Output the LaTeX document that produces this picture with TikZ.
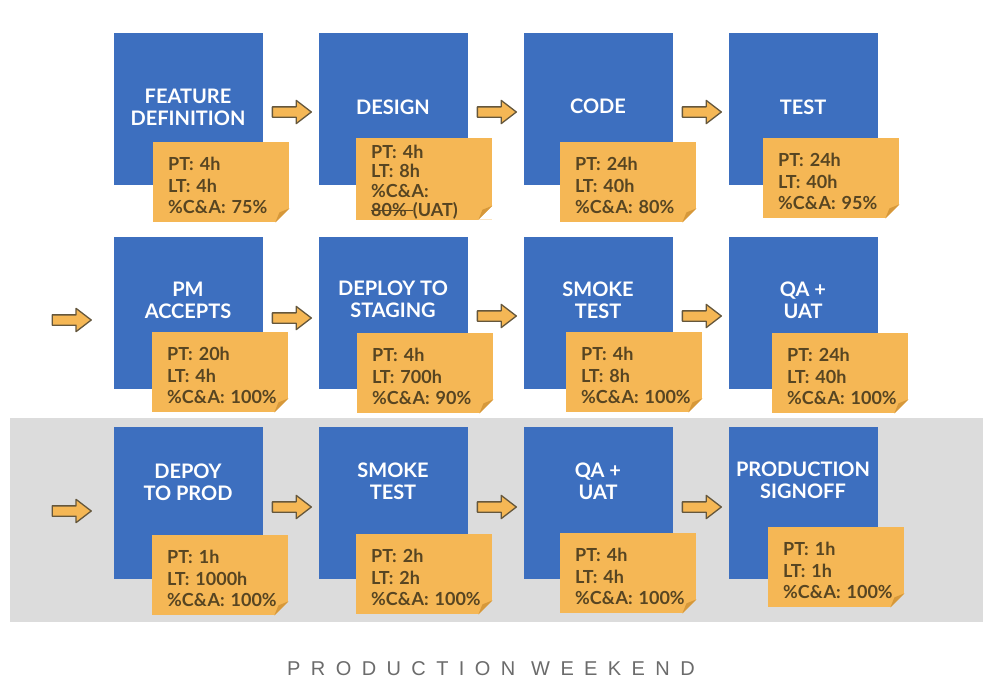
\documentclass[tikz,border=0pt]{standalone}
\usepackage{fontspec}
\setmainfont{Lato}
\newfontfamily\weekendfont[LetterSpace=52]{Liberation Sans}
\usetikzlibrary{shapes.arrows,positioning}

\definecolor{bleu}{HTML}{3D6FBF}
\definecolor{postit}{HTML}{F5B755}
\definecolor{pli}{HTML}{D6983A}
\definecolor{encre}{HTML}{574522}
\definecolor{bande}{HTML}{DCDCDC}
\definecolor{contour}{HTML}{65573C}

\newcommand\barre[1]{\leavevmode\setbox0\hbox{#1}\rlap{\rule[0.3em]{\wd0}{1.3pt}}\box0}

\def\x{205}
\def\ya{109}
\def\yb{313}
\def\yc{503}

\begin{document}
\begin{tikzpicture}[x=1pt,y=-1pt]
\tikzstyle{etape}=[fill=bleu,minimum width=149pt,minimum height=152pt,inner sep=0pt]
\tikzstyle{titre}=[text=white,font=\fontsize{20}{22}\selectfont\bfseries,align=center]
\tikzstyle{note}=[fill=postit,anchor=north west,minimum height=80pt,text width=106pt,inner xsep=15pt,inner ysep=0pt,align=left,text=encre,font=\fontsize{18}{21.5}\selectfont\bfseries,execute at begin node=\rule{0pt}{20pt}]
\tikzstyle{fleche}=[single arrow,draw=contour,fill=postit,line width=1.3pt,line join=round,minimum height=39pt,inner sep=4.5pt,single arrow head extend=6.5pt,single arrow tip angle=75]

\useasboundingbox (0,0) rectangle (983,683);
\fill[bande] (10,418) rectangle (983,622);

\node[etape] (b1) at (188,\ya) {};
\node[etape] (b2) at (188+\x,\ya) {};
\node[etape] (b3) at (188+2*\x,\ya) {};
\node[etape] (b4) at (188+3*\x,\ya) {};
\node[etape] (b5) at (188,\yb) {};
\node[etape] (b6) at (188+\x,\yb) {};
\node[etape] (b7) at (188+2*\x,\yb) {};
\node[etape] (b8) at (188+3*\x,\yb) {};
\node[etape] (b9) at (188,\yc) {};
\node[etape] (b10) at (188+\x,\yc) {};
\node[etape] (b11) at (188+2*\x,\yc) {};
\node[etape] (b12) at (188+3*\x,\yc) {};

\node[titre] (t1) at ([yshift=2pt]b1.center) {FEATURE\\DEFINITION};
\node[titre] (t2) at ([yshift=2pt]b2.center) {DESIGN};
\node[titre] (t3) at ([yshift=3pt]b3.center) {CODE};
\node[titre] (t4) at ([yshift=2pt]b4.center) {TEST};
\node[titre] (t5) at ([yshift=13pt]b5.center) {PM\\ACCEPTS};
\node[titre] (t6) at ([yshift=14pt]b6.center) {DEPLOY TO\\STAGING};
\node[titre] (t7) at ([yshift=13pt]b7.center) {SMOKE\\TEST};
\node[titre] (t8) at ([yshift=13pt]b8.center) {QA +\\UAT};
\node[titre] (t9) at ([yshift=21pt]b9.center) {DEPOY\\TO PROD};
\node[titre] (t10) at ([yshift=22pt]b10.center) {SMOKE\\TEST};
\node[titre] (t11) at ([yshift=22pt]b11.center) {QA +\\UAT};
\node[titre] (t12) at ([yshift=23pt]b12.center) {PRODUCTION\\SIGNOFF};

\node[note] (n1) at (153,142) {PT:~4h\\LT:~4h\\\%C\&A:~75\%};
\node[note,font=\fontsize{18}{19.5}\selectfont\bfseries,execute at begin node={}] (n2) at (356,138) {PT:~4h\\LT:~8h\\\%C\&A:\\\barre{80\%~}(UAT)};
\node[note] (n3) at (560,142) {PT:~24h\\LT:~40h\\\%C\&A:~80\%};
\node[note] (n4) at (763,138) {PT:~24h\\LT:~40h\\\%C\&A:~95\%};
\node[note] (n5) at (152,332) {PT:~20h\\LT:~4h\\\%C\&A:~100\%};
\node[note] (n6) at (357,333) {PT:~4h\\LT:~700h\\\%C\&A:~90\%};
\node[note] (n7) at (566,332) {PT:~4h\\LT:~8h\\\%C\&A:~100\%};
\node[note] (n8) at (772,333) {PT:~24h\\LT:~40h\\\%C\&A:~100\%};
\node[note] (n9) at (152,535) {PT:~1h\\LT:~1000h\\\%C\&A:~100\%};
\node[note] (n10) at (356,534) {PT:~2h\\LT:~2h\\\%C\&A:~100\%};
\node[note] (n11) at (560,533) {PT:~4h\\LT:~4h\\\%C\&A:~100\%};
\node[note] (n12) at (768,527) {PT:~1h\\LT:~1h\\\%C\&A:~100\%};

\foreach \n/\fond in {n1/white,n2/white,n3/white,n4/white,n5/white,n6/white,n7/white,n8/white,n9/bande,n10/bande,n11/bande,n12/bande} {
  \fill[\fond] (\n.south east) -- ++(0,-14) -- ++(-14,14) -- cycle;
  \fill[pli] ([yshift=14pt]\n.south east) -- ([xshift=-14pt]\n.south east) -- ([xshift=-10pt,yshift=10pt]\n.south east) -- cycle;
}

\node[fleche,right=9pt of b1,yshift=-3pt] (a1) {};
\node[fleche,right=9pt of b2,yshift=-3pt] (a2) {};
\node[fleche,right=9pt of b3,yshift=-3pt] (a3) {};
\node[fleche,left=21pt of b5,yshift=-7pt] (a4) {};
\node[fleche,right=9pt of b5,yshift=-5pt] (a5) {};
\node[fleche,right=9pt of b6,yshift=-3pt] (a6) {};
\node[fleche,right=9pt of b7,yshift=-3pt] (a7) {};
\node[fleche,left=21pt of b9,yshift=-8pt] (a8) {};
\node[fleche,right=9pt of b9,yshift=-4pt] (a9) {};
\node[fleche,right=9pt of b10,yshift=-4pt] (a10) {};
\node[fleche,right=9pt of b11,yshift=-4pt] (a11) {};

\node[text=black!58,font=\weekendfont\fontsize{20}{24}\selectfont] (weekend) at (491,669) {PRODUCTION WEEKEND};

\end{tikzpicture}
\end{document}
